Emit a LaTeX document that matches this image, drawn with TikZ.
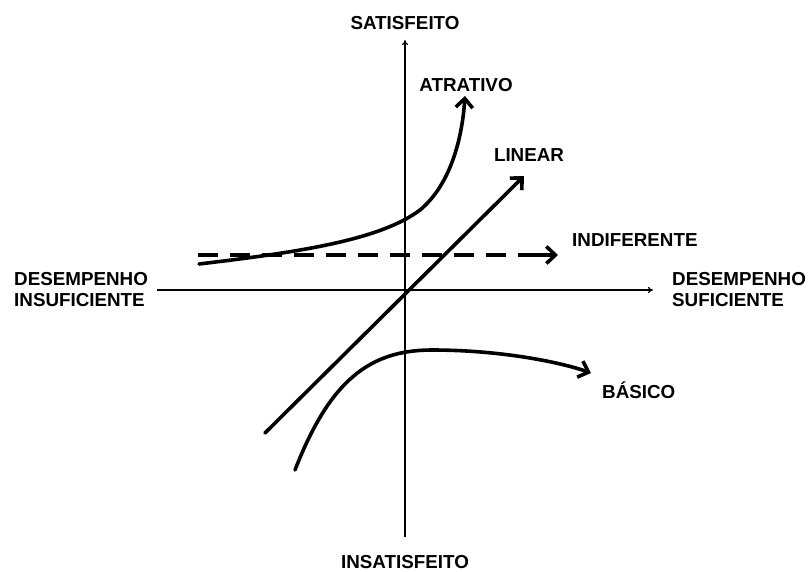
\documentclass[tikz,border=0pt]{standalone}
\usepackage{fontspec}
\setmainfont{Liberation Sans}
\usetikzlibrary{positioning}
\usetikzlibrary{arrows.meta}

\tikzset{
    rotulo/.style={font=\fontsize{18.8}{21}\selectfont\bfseries, inner sep=0pt, align=left},
    eixo/.style={line width=1.1pt, -{To[length=5pt,width=6pt]}},
    curva/.style={line width=3.6pt, line cap=round, -{Straight Barb[length=9pt,width=17pt,line width=3.6pt]}}
}

\begin{document}
\begin{tikzpicture}[x=1pt, y=-1pt]
    \useasboundingbox (0,0) rectangle (811,571);

    % Axes
    \coordinate (ybase) at (405,537);
    \coordinate (ytop) at (405,40);
    \coordinate (xbase) at (157,290);
    \coordinate (xtop) at (653,290);
    \draw[eixo] (ybase) -- (ytop);
    \draw[eixo] (xbase) -- (xtop);

    % Axis labels
    \node[rotulo] (sat) at (405,23) {SATISFEITO};
    \node[rotulo] (insat) at (405,562) {INSATISFEITO};
    \node[rotulo, anchor=west] (desIns) at (14,290) {DESEMPENHO\\INSUFICIENTE};
    \node[rotulo, anchor=west] (desSuf) at (672,290) {DESEMPENHO\\SUFICIENTE};

    % Attractive curve
    \coordinate (atrA) at (199,264);
    \coordinate (atrB) at (465,96);
    \draw[curva] (atrA) .. controls (300,252) and (380,240) .. (420,210)
        .. controls (450,185) and (462,140) .. (atrB);
    \node[rotulo] (atrativo) at (466,85) {ATRATIVO};

    % Linear
    \coordinate (linA) at (265,433);
    \coordinate (linB) at (524,176);
    \draw[curva] (linA) -- (linB);
    \node[rotulo] (linear) at (529,155) {LINEAR};

    % Indifferent (dashed, last piece solid into the tip)
    \coordinate (indA) at (198,255);
    \coordinate (indC) at (538,255);
    \coordinate (indB) at (558,255);
    \draw[line width=3.6pt, dash pattern=on 20pt off 12pt] (indA) -- (indC);
    \draw[curva, line cap=butt] (indC) -- (indB);
    \node[rotulo, anchor=west] (indif) at (572,240) {INDIFERENTE};

    % Basic curve
    \coordinate (basA) at (295,470);
    \coordinate (basB) at (591,373);
    \draw[curva] (basA) .. controls (330,380) and (370,350) .. (432,350)
        .. controls (500,350) and (560,362) .. (basB);
    \node[rotulo, anchor=west] (basico) at (602,390) {BÁSICO};
\end{tikzpicture}
\end{document}
